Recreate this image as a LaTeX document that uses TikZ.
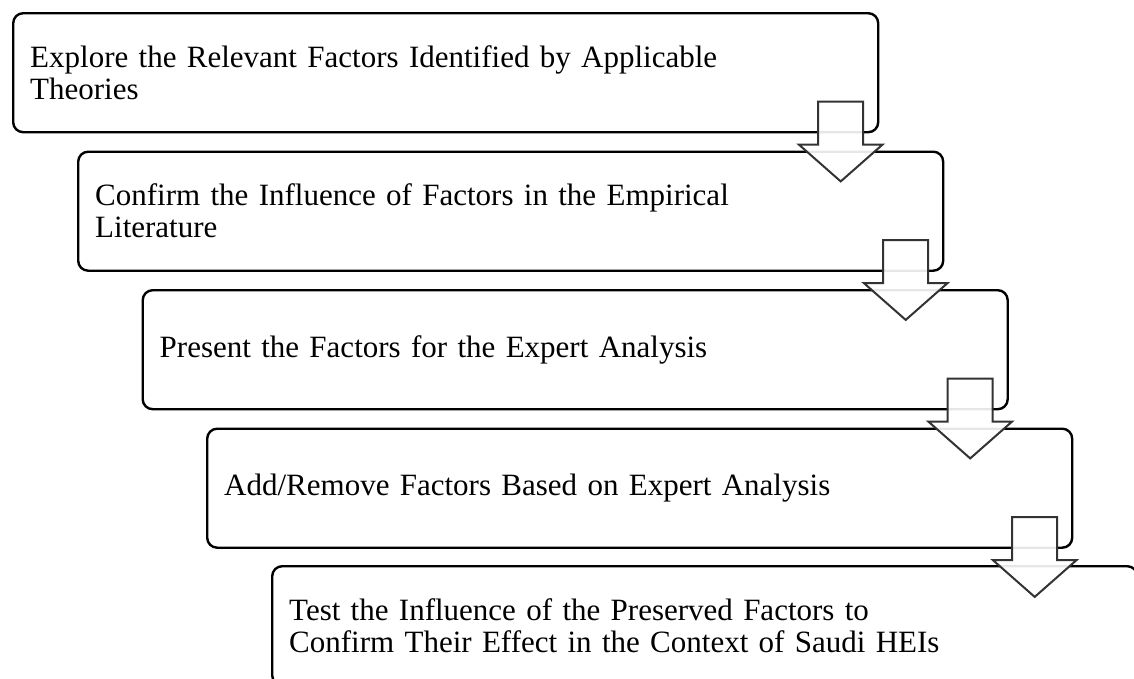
\documentclass[tikz,border=0pt]{standalone}
\usepackage{fontspec}
\setmainfont{Liberation Serif}
\usetikzlibrary{calc}
\tikzset{
  stepbox/.style={draw=black, line width=2.4pt, rounded corners=10pt, fill=white,
    minimum width=865pt, minimum height=119pt, anchor=north west,
    text width=831pt, inner xsep=17pt, inner ysep=0pt, align=left,
    font=\fontsize{31}{32}\selectfont},
  blockarrow/.style={draw=black!80, line width=2pt, fill=white, fill opacity=0.9,
    line join=miter},
}
\newcommand{\downarrowbetween}[1]{%
  \draw[blockarrow] ([shift={(-61.2,31.7)}]#1.south east) -- ++(0,-43) -- ++(-19.2,0)
    -- ++(41.7,-36.7) -- ++(41.7,36.7) -- ++(-19.2,0) -- ++(0,43) -- cycle;}
\begin{document}
\begin{tikzpicture}[x=1pt,y=1pt]
\useasboundingbox (0,0) rectangle (1134,-678);
\clip (0,0) rectangle (1134,-678);
\node[stepbox] (s1) at (12,-12) {Explore the Relevant Factors Identified by Applicable\\Theories};
\node[stepbox] (s2) at (77,-150.5) {Confirm the Influence of Factors in the Empirical\\Literature};
\node[stepbox] (s3) at (141.5,-289) {Present the Factors for the Expert Analysis};
\node[stepbox] (s4) at (206,-427.5) {Add/Remove Factors Based on Expert Analysis};
\node[stepbox] (s5) at (271,-565) {Test the Influence of the Preserved Factors to\\Confirm Their Effect in the Context of Saudi HEIs};
\downarrowbetween{s1}
\downarrowbetween{s2}
\downarrowbetween{s3}
\downarrowbetween{s4}
\end{tikzpicture}
\end{document}
